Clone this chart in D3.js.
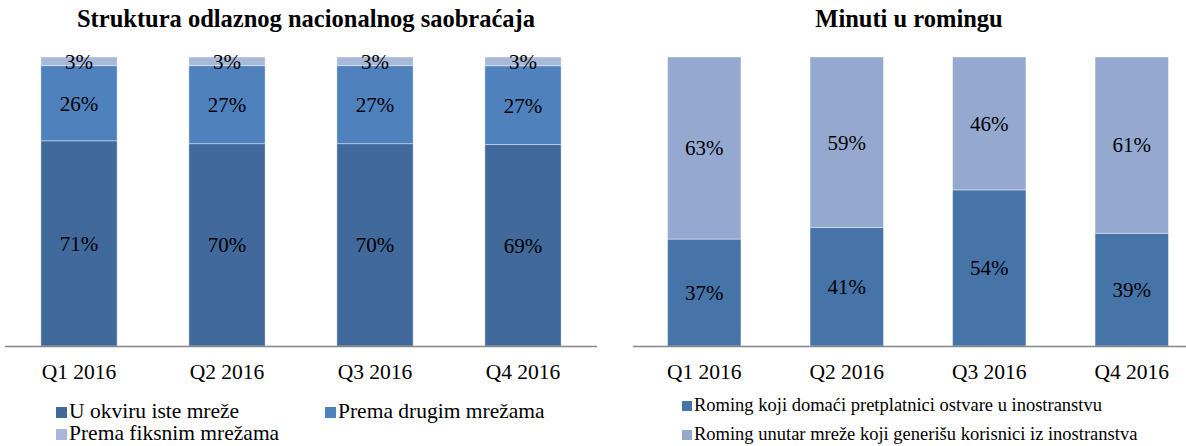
<!DOCTYPE html>
<html lang="en">
<head>
<meta charset="UTF-8" />
<title>Struktura saobraćaja i roming</title>
<script src="https://d3js.org/d3.v7.min.js"></script>
<style>
  body { margin: 0; background: #fff; }
  svg text { font-family: "Liberation Serif", "Times New Roman", serif; fill: #000; }
  .title { font-weight: bold; font-size: 24.5px; }
  .tick-label { font-size: 21.5px; }
  .bar-label { font-size: 21px; }
</style>
</head>
<body>
<svg width="1186" height="446"></svg>
<script>
  const quarters = ["Q1 2016", "Q2 2016", "Q3 2016", "Q4 2016"];

  // Struktura odlaznog nacionalnog saobraćaja (%)
  const istaMreza = [71, 70, 70, 69];
  const drugeMreze = [26, 27, 27, 27];
  const fiksneMreze = [3, 3, 3, 3];

  // Minuti u romingu (%)
  const romingDomaci = [37, 41, 54, 39];
  const romingStrani = [63, 59, 46, 61];

  const svg = d3.select("svg");
  const y = d3.scaleLinear().domain([0, 1]).range([346, 57]);

  function drawChart(opts) {
    const g = svg.append("g");
    const x = d3.scaleBand().domain(quarters)
      .range(opts.range).paddingInner(0.485).paddingOuter(0.2425);

    const rows = quarters.map((q, i) => {
      const r = {q};
      opts.series.forEach(s => r[s.key] = s.values[i]);
      return r;
    });
    const stack = d3.stack().keys(opts.series.map(s => s.key)).offset(d3.stackOffsetExpand);
    const layers = stack(rows);

    layers.forEach((layer, li) => {
      const s = opts.series[li];
      g.selectAll(null).data(layer).join("rect")
        .attr("x", d => x(d.data.q))
        .attr("width", x.bandwidth())
        .attr("y", d => y(d[1]))
        .attr("height", d => y(d[0]) - y(d[1]))
        .attr("fill", s.color)
        .attr("stroke", "rgba(255,255,255,0.5)")
        .attr("stroke-width", 0.8);

      g.selectAll(null).data(layer).join("text")
        .attr("class", "bar-label")
        .attr("x", d => x(d.data.q) + x.bandwidth() / 2)
        .attr("y", d => (y(d[0]) + y(d[1])) / 2)
        .attr("dy", "0.35em")
        .attr("text-anchor", "middle")
        .text(d => d.data[s.key] + "%");
    });

    // axis line
    g.append("line")
      .attr("x1", opts.axisExtent[0]).attr("x2", opts.axisExtent[1])
      .attr("y1", y(0) + 0.5).attr("y2", y(0) + 0.5)
      .attr("stroke", "#868686").attr("stroke-width", 1.5);

    g.selectAll(null).data(quarters).join("text")
      .attr("class", "tick-label")
      .attr("x", d => x(d) + x.bandwidth() / 2)
      .attr("y", 379)
      .attr("text-anchor", "middle")
      .text(d => d);

    g.append("text").attr("class", "title")
      .attr("x", opts.titleX).attr("y", 27)
      .attr("text-anchor", "middle")
      .text(opts.title);

    opts.series.forEach(s => {
      const lg = g.append("g").attr("transform", `translate(${s.legend[0]},${s.legend[1]})`);
      lg.append("rect").attr("x", 0).attr("y", -opts.legendBox)
        .attr("width", opts.legendBox).attr("height", opts.legendBox)
        .attr("fill", s.color);
      lg.append("text").attr("x", opts.legendBox + 2).attr("y", 0)
        .style("font-size", opts.legendFont + "px")
        .text(s.name);
    });
  }

  drawChart({
    title: "Struktura odlaznog nacionalnog saobraćaja",
    titleX: 306,
    range: [5, 597],
    axisExtent: [5, 597],
    legendBox: 11,
    legendFont: 21.5,
    series: [
      {key: "ista", name: "U okviru iste mreže", values: istaMreza, color: "#41699b", legend: [56, 418]},
      {key: "druge", name: "Prema drugim mrežama", values: drugeMreze, color: "#4f81bd", legend: [325, 418]},
      {key: "fiksne", name: "Prema fiksnim mrežama", values: fiksneMreze, color: "#a8b8d8", legend: [56, 440]}
    ]
  });

  drawChart({
    title: "Minuti u romingu",
    titleX: 909,
    range: [633, 1203],
    axisExtent: [633, 1186],
    legendBox: 10,
    legendFont: 18.5,
    series: [
      {key: "domaci", name: "Roming koji domaći pretplatnici ostvare u inostranstvu", values: romingDomaci, color: "#4673a8", legend: [682, 411]},
      {key: "strani", name: "Roming unutar mreže koji generišu korisnici iz inostranstva", values: romingStrani, color: "#95a9d0", legend: [682, 440]}
    ]
  });
</script>
</body>
</html>
